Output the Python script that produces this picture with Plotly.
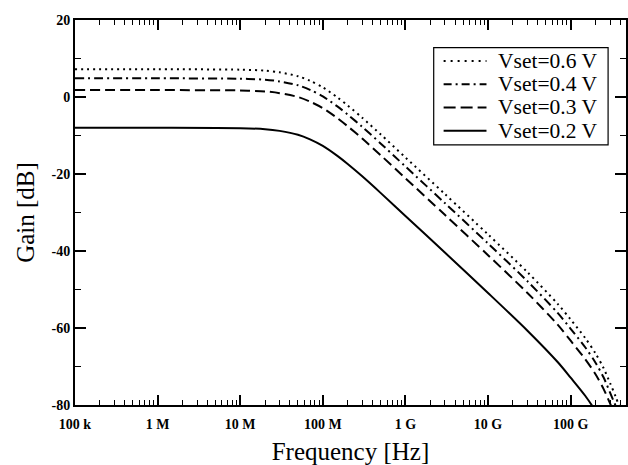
import plotly.graph_objects as go

# ---- data ----
freq_hz = [1e5, 1e6, 1e7, 2e7, 3e7, 5e7, 7e7, 1e8, 1.5e8, 2e8, 3e8, 5e8, 1e9,
           3e9, 1e10, 3e10, 7e10, 1e11, 1.5e11, 2e11, 2.5e11, 3e11, 3.5e11, 4e11]
gain_v06 = [7.2, 7.2, 7.1, 6.85, 6.4, 5.4, 4.2, 2.5, -0.1, -2.2, -5.4, -9.7, -15.7,
            -25.2, -35.7, -45.5, -53.8, -57.8, -62.6, -66.6, -70.4, -74.3, -77.8, -81.2]
gain_v04 = [4.85, 4.85, 4.75, 4.5, 4.05, 3.05, 1.85, 0.15, -2.45, -4.55, -7.75, -12.05, -18.05,
            -27.55, -38.05, -47.85, -56.15, -60.2, -65.0, -69.0, -72.8, -76.8, -80.2, -83.5]
gain_v03 = [1.8, 1.8, 1.7, 1.45, 1.0, 0.0, -1.2, -2.9, -5.5, -7.6, -10.8, -15.1, -21.1,
            -30.6, -41.1, -50.9, -59.2, -63.3, -68.1, -72.0, -75.8, -79.6, -83.0, -86.5]
gain_v02 = [-8.0, -8.0, -8.1, -8.35, -8.8, -9.8, -11.0, -12.7, -15.3, -17.4, -20.6, -24.9, -30.9,
            -40.4, -50.9, -60.7, -68.9, -72.9, -77.6, -81.6, -85.6, -89.6, -93.0, -96.5]

series_names = ["Vset=0.6 V", "Vset=0.4 V", "Vset=0.3 V", "Vset=0.2 V"]
series_gains = [gain_v06, gain_v04, gain_v03, gain_v02]

x_tick_vals = [1e5, 1e6, 1e7, 1e8, 1e9, 1e10, 1e11]
x_tick_text = ["100 k", "1 M", "10 M", "100 M", "1 G", "10 G", "100 G"]
y_tick_vals = [-80, -60, -40, -20, 0, 20]
y_tick_text = ["-80", "-60", "-40", "-20", "0", "20"]

# ---- styles ----
dashes = ["2px,4px", "9px,4px,2px,4px", "10px,5px", "solid"]
legend_dashes = ["2px,5px", "8px,4px,2px,4px", "12px,5px", "solid"]
FONT = "Liberation Serif"

fig = go.Figure()
for name, g, d in zip(series_names, series_gains, dashes):
    fig.add_trace(go.Scatter(
        x=freq_hz, y=g, mode="lines", name=name, showlegend=False,
        line=dict(color="black", width=2, dash=d, shape="spline", smoothing=0.8),
    ))

fig.update_layout(
    width=628, height=465,
    margin=dict(l=75, r=0, t=20, b=60),
    paper_bgcolor="white", plot_bgcolor="white",
    font=dict(family=FONT, color="black"),
)

fig.update_xaxes(
    type="log", range=[5, 11.67],
    tickmode="array", tickvals=x_tick_vals, ticktext=x_tick_text,
    ticks="inside", ticklen=10, tickwidth=1.5, tickcolor="black",
    minor=dict(ticks="inside", ticklen=5, tickwidth=1.2, tickcolor="black", dtick="D1"),
    showline=True, linecolor="black", linewidth=2, mirror="allticks",
    showgrid=False, zeroline=False, ticklabelstandoff=5,
    tickfont=dict(family=FONT, size=14, weight="bold"),
    title=dict(text="Frequency [Hz]", font=dict(family=FONT, size=25), standoff=14),
)
fig.update_yaxes(
    range=[-80, 20],
    tickmode="array", tickvals=y_tick_vals, ticktext=y_tick_text,
    ticks="inside", ticklen=11, tickwidth=1.5, tickcolor="black",
    minor=dict(ticks="inside", ticklen=6, tickwidth=1.2, tickcolor="black", dtick=10),
    showline=True, linecolor="black", linewidth=2, mirror="allticks",
    showgrid=False, zeroline=False,
    tickfont=dict(family=FONT, size=14, weight="bold"),
    title=dict(text="Gain [dB]", font=dict(family=FONT, size=25), standoff=10),
)

# ---- manual legend (box, sample lines, labels) ----
box_x0, box_x1, box_y0, box_y1 = 0.651, 0.9675, 0.6757, 0.9281
fig.add_shape(type="rect", xref="paper", yref="paper",
              x0=box_x0, x1=box_x1, y0=box_y0, y1=box_y1,
              line=dict(color="black", width=1.2), fillcolor="white", layer="above")
row_y = [0.8937, 0.8332, 0.7728, 0.7123]
for name, d, yy in zip(series_names, legend_dashes, row_y):
    fig.add_shape(type="line", xref="paper", yref="paper",
                  x0=0.669, x1=0.7468, y0=yy, y1=yy,
                  line=dict(color="black", width=2, dash=d), layer="above")
    fig.add_annotation(xref="paper", yref="paper", x=0.765, y=yy,
                       xanchor="left", yanchor="middle", showarrow=False,
                       borderpad=0,
                       text=name, font=dict(family=FONT, size=21.5, color="black"))

fig.write_html("out.html")
